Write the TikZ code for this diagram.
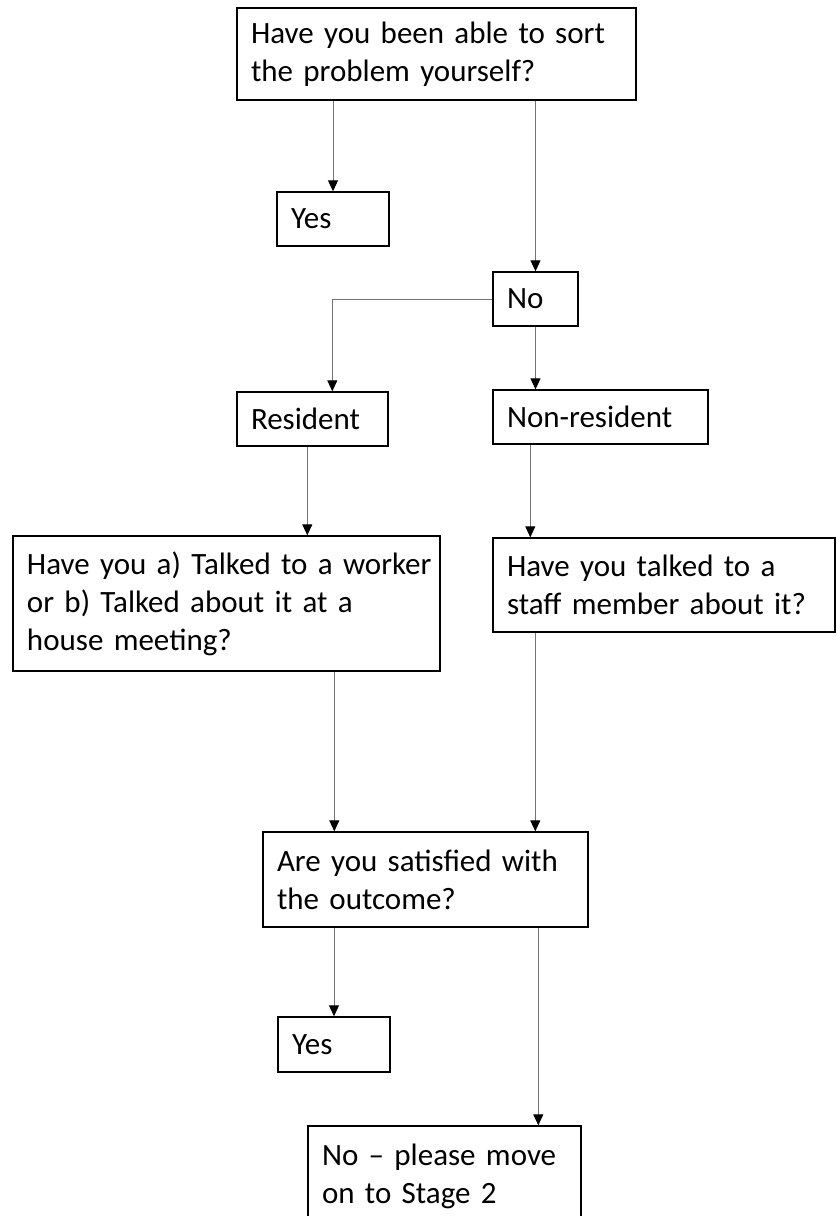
\documentclass[tikz,border=0pt]{standalone}
\usepackage{fontspec}
\setmainfont{Carlito}[WordSpace={0.85,0,0}]
\usetikzlibrary{arrows.meta,calc}
\begin{document}
\begin{tikzpicture}[x=1pt,y=-1pt,
  box/.style={draw=black,line width=1.4pt,rectangle,inner xsep=14pt,inner ysep=2pt,
    align=left,font=\fontsize{31}{38}\selectfont},
  conn/.style={draw=black!55,line width=1pt,-{Triangle[length=11pt,width=10pt,color=black]}}]
\useasboundingbox (0,0) rectangle (837,1216);
\clip (0,0) rectangle (837,1216);
\fill[white] (0,0) rectangle (837,1216);
\node[box,minimum width=399pt,minimum height=92pt,text width=371pt] (b1) at (436.5,54)
  {\mbox{Have you been able to sort}\\the problem yourself?};
\node[box,minimum width=112pt,minimum height=54pt,text width=84pt] (y1) at (333,219) {Yes};
\node[box,minimum width=85pt,minimum height=54pt,text width=57pt] (no) at (535.5,299) {No};
\node[box,minimum width=151pt,minimum height=54pt,text width=123pt] (res) at (312.5,419) {Resident};
\node[box,minimum width=215pt,minimum height=54pt,text width=187pt] (nonres) at (600.5,417) {Non-resident};
\node[box,minimum width=427pt,minimum height=135pt,text width=399pt] (q1) at (226.5,603.5)
  {\mbox{Have you a) Talked to a worker}\\\mbox{or b) Talked about it at a}\\house meeting?};
\node[box,minimum width=342pt,minimum height=94pt,text width=314pt] (q2) at (664,585)
  {Have you talked to a\\\mbox{staff member about it?}};
\node[box,minimum width=325pt,minimum height=95pt,text width=297pt] (sat) at (425.5,879.5)
  {\mbox{Are you satisfied with}\\the outcome?};
\node[box,minimum width=112pt,minimum height=55pt,text width=84pt] (y2) at (334,1044.5) {Yes};
\node[box,minimum width=273pt,minimum height=100pt,text width=245pt] (fin) at (444.5,1176)
  {\mbox{No -- please move}\\on to Stage 2};
% connectors
\draw[conn] (y1.north |- b1.south) -- (y1.north);
\draw[conn] (no.north |- b1.south) -- (no.north);
\coordinate (resin) at ($(res.north west)+(96,0)$);
\draw[conn] (no.west) -| (resin);
\draw[conn] (no.south) -- (no.south |- nonres.north);
\coordinate (resout) at ($(res.south west)+(71,0)$);
\draw[conn] (resout) -- (resout |- q1.north);
\coordinate (nrout) at ($(nonres.south west)+(38,0)$);
\draw[conn] (nrout) -- (nrout |- q2.north);
\coordinate (q1out) at ($(q1.south west)+(322,0)$);
\draw[conn] (q1out) -- (q1out |- sat.north);
\coordinate (q2out) at ($(q2.south west)+(43,0)$);
\draw[conn] (q2out) -- (q2out |- sat.north);
\draw[conn] (y2.north |- sat.south) -- (y2.north);
\coordinate (finin) at ($(fin.north west)+(231,0)$);
\draw[conn] (finin |- sat.south) -- (finin);
\end{tikzpicture}
\end{document}
